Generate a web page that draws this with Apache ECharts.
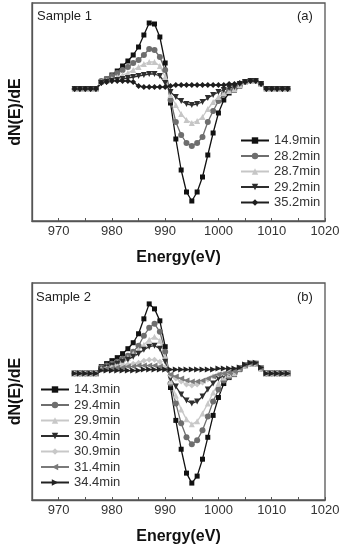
<!DOCTYPE html>
<html>
<head>
<meta charset="utf-8">
<script src="https://cdn.jsdelivr.net/npm/echarts@6/dist/echarts.min.js"></script>
<style>
  html, body { margin: 0; padding: 0; background: #fff; }
  #chart { width: 343px; height: 546px; }
</style>
</head>
<body>
<div id="chart"></div>
<script>
// photon energy (eV), one point per eV
const energy = [973, 974, 975, 976, 977, 978, 979, 980, 981, 982, 983, 984, 985, 986,
  987, 988, 989, 990, 991, 992, 993, 994, 995, 996, 997, 998, 999, 1000, 1001, 1002,
  1003, 1004, 1005, 1006, 1007, 1008, 1009, 1010, 1011, 1012, 1013];
const xTicks = [970, 980, 990, 1000, 1010, 1020];

// Sample 1 (arbitrary units)
const namesA = ['14.9min', '28.2min', '28.7min', '29.2min', '35.2min'];
const a149 = [0, 0, 0, 0, 0, 7, 10, 14, 18, 23, 28, 34, 42, 54, 66, 65, 52, 26,
  -14, -50, -81, -103, -112, -103, -88, -66, -44, -24, -11, -4, -1, 3, 7, 8, 8, 5, 0, 0, 0, 0, 0];
const a282 = [0, 0, 0, 0, 0, 8, 10, 13, 16, 19, 22, 26, 29, 34, 40, 39, 32, 19,
  -11, -33, -46, -54, -57, -54, -48, -33, -22, -12, -5, -2, 0, 4, 7, 8, 8, 5, 0, 0, 0, 0, 0];
const a287 = [0, 0, 0, 0, 0, 7, 8, 10, 12, 14, 16, 19, 22, 25, 27, 27, 23, 12,
  -6, -16, -25, -31, -34, -32, -28, -20, -13, -8, -4, -2, 0, 4, 7, 8, 8, 5, 0, 0, 0, 0, 0];
const a292 = [0, 0, 0, 0, 0, 6, 7, 8, 9, 10, 11, 12, 13, 14, 15, 15, 13, 6,
  -3, -8, -12, -15, -16, -15, -13, -9, -6, -3, -1, 1, 2, 5, 7, 8, 8, 5, 0, 0, 0, 0, 0];
const a352 = [0, 0, 0, 0, 0, 6, 7, 8, 8, 8, 8, 7, 3, 2, 2, 2, 2, 2,
  3, 4, 4, 4, 4, 4, 4, 4, 4, 4, 4, 5, 5, 6, 7, 8, 8, 5, 0, 0, 0, 0, 0];

// Sample 2 (arbitrary units)
const namesB = ['14.3min', '29.4min', '29.9min', '30.4min', '30.9min', '31.4min', '34.4min'];
const b143 = [0, 0, 0, 0, 0, 7, 10, 13, 16, 20, 25, 31, 40, 55, 70, 65, 53, 27,
  -14, -47, -76, -100, -110, -103, -86, -64, -42, -24, -10, -4, -1, 4, 8, 10, 10, 5, 0, 0, 0, 0, 0];
const b294 = [0, 0, 0, 0, 0, 6, 8, 10, 12, 15, 18, 22, 28, 38, 46, 50, 42, 22,
  -10, -30, -50, -64, -71, -67, -57, -43, -28, -16, -7, -3, 0, 5, 8, 10, 10, 5, 0, 0, 0, 0, 0];
const b299 = [0, 0, 0, 0, 0, 5, 7, 9, 11, 13, 16, 20, 24, 29, 34, 37, 33, 17,
  -8, -22, -36, -46, -51, -48, -40, -30, -19, -10, -4, -1, 0, 5, 8, 10, 10, 5, 0, 0, 0, 0, 0];
const b304 = [0, 0, 0, 0, 0, 4, 6, 8, 10, 12, 14, 17, 20, 24, 27, 28, 25, 12,
  -5, -13, -21, -27, -30, -28, -23, -16, -10, -5, -2, 0, 2, 5, 8, 10, 10, 5, 0, 0, 0, 0, 0];
const b309 = [0, 0, 0, 0, 0, 4, 5, 6, 7, 8, 9, 10, 11, 13, 14, 14, 12, 6,
  -2, -5, -8, -11, -12, -11, -9, -6, -3, -1, 0, 1, 2, 5, 8, 10, 10, 5, 0, 0, 0, 0, 0];
const b314 = [0, 0, 0, 0, 0, 4, 5, 5, 6, 6, 7, 7, 8, 8, 8, 8, 7, 4,
  -1, -3, -5, -7, -8, -8, -7, -5, -3, -1, 0, 1, 2, 5, 8, 10, 10, 5, 0, 0, 0, 0, 0];
const b344 = [0, 0, 0, 0, 0, 3, 3, 3, 3, 3, 3, 3, 3, 4, 4, 4, 4, 4,
  4, 4, 4, 4, 4, 4, 4, 4, 4, 5, 5, 5, 5, 6, 9, 11, 11, 6, 0, 0, 0, 0, 0];

const font = "'Liberation Sans', Arial, sans-serif";
const frame = '#555';

const pairs = vals => vals.map((v, i) => [energy[i], v]);

const mkX = (idx) => ({
  type: 'value', gridIndex: idx, min: 965, max: 1020, interval: 5,
  name: 'Energy(eV)', nameLocation: 'middle', nameGap: 29,
  nameTextStyle: { fontSize: 16, fontWeight: 'bold', color: '#111', fontFamily: font },
  axisLine: { onZero: false, lineStyle: { color: frame, width: 1.3 } },
  axisTick: { inside: true, length: 3, lineStyle: { color: frame } },
  axisLabel: {
    margin: 4, fontSize: 13, color: '#333', fontFamily: font,
    formatter: v => xTicks.indexOf(v) >= 0 ? String(v) : ''
  },
  splitLine: { show: false }
});

const mkY = (idx, mn, mx) => ({
  type: 'value', gridIndex: idx, min: mn, max: mx,
  name: 'dN(E)/dE', nameLocation: 'middle', nameGap: 8, nameRotate: 90,
  nameTextStyle: { fontSize: 16, fontWeight: 'bold', color: '#111', fontFamily: font },
  axisLine: { show: true, onZero: false, lineStyle: { color: frame, width: 1.3 } },
  axisTick: { show: false }, axisLabel: { show: false }, splitLine: { show: false }
});

const mkS = (name, vals, idx, color, symbol, size, rot) => ({
  name: name, type: 'line', xAxisIndex: idx, yAxisIndex: idx,
  data: pairs(vals), symbol: symbol, symbolSize: size, symbolRotate: rot || 0,
  showAllSymbol: true,
  itemStyle: { color: color }, lineStyle: { color: color, width: 1.3 }
});

const titleStyle = { fontSize: 13, fontWeight: 'normal', color: '#222', fontFamily: font };

const chart = echarts.init(document.getElementById('chart'));
chart.setOption({
  animation: false,
  backgroundColor: '#fff',
  title: [
    { text: 'Sample 1', left: 32, top: 5, textStyle: titleStyle },
    { text: '(a)', left: 292, top: 5, textStyle: titleStyle },
    { text: 'Sample 2', left: 31, top: 286, textStyle: titleStyle },
    { text: '(b)', left: 292, top: 286, textStyle: titleStyle }
  ],
  grid: [
    { left: 28, top: 3, width: 297, height: 218, show: true, borderColor: frame, borderWidth: 1.3 },
    { left: 28, top: 283, width: 297, height: 218, show: true, borderColor: frame, borderWidth: 1.3 }
  ],
  xAxis: [mkX(0), mkX(1)],
  yAxis: [mkY(0, -132, 86), mkY(1, -127, 91)],
  legend: [
    { data: namesA, orient: 'vertical', left: 235, top: 129, itemWidth: 28, itemHeight: 8, itemGap: 2.5,
      textStyle: { fontSize: 13, color: '#333', fontFamily: font, lineHeight: 13 } },
    { data: namesB, orient: 'vertical', left: 35, top: 378, itemWidth: 28, itemHeight: 8, itemGap: 2.5,
      textStyle: { fontSize: 13, color: '#333', fontFamily: font, lineHeight: 13 } }
  ],
  series: [
    mkS(namesA[0], a149, 0, '#111111', 'rect', 5),
    mkS(namesA[1], a282, 0, '#6e6e6e', 'circle', 6),
    mkS(namesA[2], a287, 0, '#c6c6c6', 'triangle', 6),
    mkS(namesA[3], a292, 0, '#2e2e2e', 'triangle', 6, 180),
    mkS(namesA[4], a352, 0, '#1e1e1e', 'diamond', 6),
    mkS(namesB[0], b143, 1, '#111111', 'rect', 5),
    mkS(namesB[1], b294, 1, '#6e6e6e', 'circle', 6),
    mkS(namesB[2], b299, 1, '#c8c8c8', 'triangle', 6),
    mkS(namesB[3], b304, 1, '#2e2e2e', 'triangle', 6, 180),
    mkS(namesB[4], b309, 1, '#c8c8c8', 'diamond', 6),
    mkS(namesB[5], b314, 1, '#7a7a7a', 'triangle', 6, 90),
    mkS(namesB[6], b344, 1, '#222222', 'triangle', 6, -90)
  ]
});
</script>
</body>
</html>
